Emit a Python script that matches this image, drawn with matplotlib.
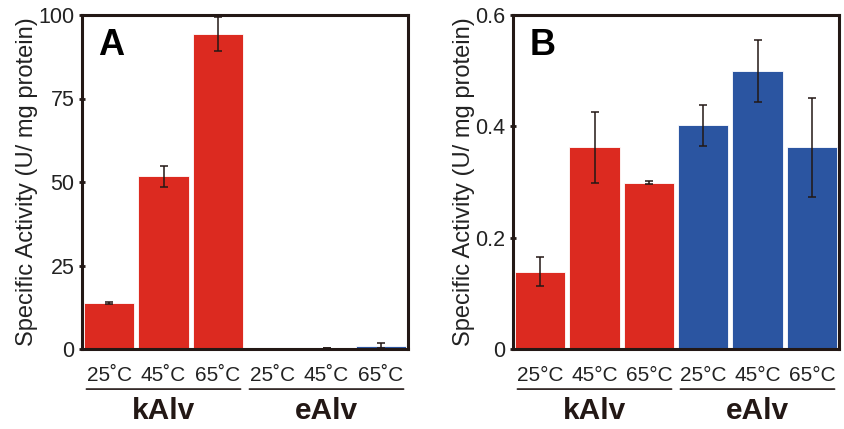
import matplotlib.pyplot as plt
import numpy as np

plt.rcParams['font.family'] = ['Liberation Sans', 'DejaVu Sans']

groups = ['kAlv', 'eAlv']
temps_a = ['25˚C', '45˚C', '65˚C', '25˚C', '45˚C', '65˚C']
temps_b = ['25°C', '45°C', '65°C', '25°C', '45°C', '65°C']

# panel A, U/mg protein
act_a = [13.9, 51.7, 94.4, 0.1, 0.15, 1.0]
err_a = [0.3, 3.2, 5.1, 0.0, 0.0, 0.8]
# panel B, U/mg protein
act_b = [0.139, 0.362, 0.299, 0.402, 0.499, 0.362]
err_b = [0.026, 0.063, 0.003, 0.037, 0.056, 0.089]

RED = '#dc2a20'
BLUE = '#2b55a1'
INK = '#231815'
colors = [RED, RED, RED, BLUE, BLUE, BLUE]

W, H = 844, 429
fig = plt.figure(figsize=(W / 100, H / 100), dpi=100)


def panel(left, right, vals, errs, labels, ymax, yticks, yticklabels, letter):
    top, bottom = 15, 349
    ax = fig.add_axes([left / W, 1 - bottom / H, (right - left) / W, (bottom - top) / H])
    x = np.arange(len(vals))
    ax.bar(x, vals, width=0.93, color=colors, edgecolor='white', linewidth=0.6, zorder=2)
    ax.errorbar(x, vals, yerr=errs, fmt='none', ecolor=INK, elinewidth=1.1,
                capsize=3, capthick=1.1, zorder=3)
    ax.set_xlim(-0.5, len(vals) - 0.5)
    ax.set_ylim(0, ymax)
    ax.set_yticks(yticks)
    ax.set_yticklabels(yticklabels)
    ax.set_xticks(x)
    ax.set_xticklabels(labels)
    for s in ax.spines.values():
        s.set_linewidth(2.2)
        s.set_color(INK)
    ax.tick_params(axis='y', direction='inout', length=5, width=2, color=INK,
                   labelsize=15.5, pad=3, labelcolor='#222222')
    ax.tick_params(axis='x', length=0, labelsize=15, pad=12, labelcolor='#222222')
    ax.set_ylabel('Specific Activity (U/ mg protein)', fontsize=17, labelpad=0,
                  color='#222222')
    ax.text(0.05, 0.96, letter, transform=ax.transAxes, fontsize=26,
            fontweight='bold', va='top', ha='left', color='black')
    # group brackets below tick labels
    n = len(vals) // 2
    for gi, g in enumerate(groups):
        x0 = gi * n - 0.47
        x1 = gi * n + n - 0.53
        ax.annotate('', xy=(x0, -0.12), xytext=(x1, -0.12),
                    xycoords=('data', 'axes fraction'),
                    arrowprops=dict(arrowstyle='-', color=INK, lw=1.2))
        ax.text((x0 + x1) / 2, -0.187, g, transform=ax.get_xaxis_transform(),
                ha='center', va='center', fontsize=21.5, fontweight='bold', color=INK)
    return ax


panel(82, 408, act_a, err_a, temps_a, 100, [0, 25, 50, 75, 100],
      ['0', '25', '50', '75', '100'], 'A')
panel(513, 839, act_b, err_b, temps_b, 0.6, [0, 0.2, 0.4, 0.6],
      ['0', '0.2', '0.4', '0.6'], 'B')

fig.savefig('out.png', dpi=100)
